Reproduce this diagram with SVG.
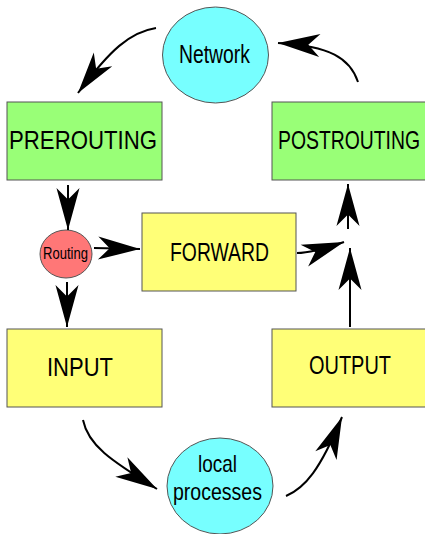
<svg xmlns="http://www.w3.org/2000/svg" width="425" height="534" viewBox="0 0 425 534">
<style>
.box{stroke:#555;stroke-width:1}
.g{fill:#99ff77}
.y{fill:#ffff77}
.c{fill:#77ffff}
.r{fill:#ff7777}
text{font-family:"Liberation Sans",Arial,sans-serif;fill:#000;text-anchor:middle}
.big{font-size:26px}
.edge{fill:none;stroke:#000;stroke-width:2;marker-end:url(#ah)}
</style>
<defs>
<marker id="ah" markerUnits="userSpaceOnUse" orient="auto" markerWidth="44" markerHeight="26" viewBox="-41 -12 42 24" refX="0" refY="0">
<path d="M0,0 L-40,-11 L-29,0 L-40,11 Z" fill="#000"/>
</marker>
</defs>
<rect width="425" height="534" fill="#fff"/>
<g id="network"><ellipse class="box c" cx="215.5" cy="55" rx="53" ry="48"/><text class="big" x="214.5" y="63" textLength="71" lengthAdjust="spacingAndGlyphs">Network</text></g>
<g id="prerouting"><rect class="box g" x="7" y="102" width="155" height="78"/><text class="big" x="83" y="149" textLength="148" lengthAdjust="spacingAndGlyphs">PREROUTING</text></g>
<g id="postrouting"><rect class="box g" x="272" y="102" width="155" height="78"/><text class="big" x="349" y="149" textLength="142" lengthAdjust="spacingAndGlyphs">POSTROUTING</text></g>
<g id="routing"><ellipse class="box r" cx="66" cy="254" rx="26" ry="24"/><text x="65.5" y="259" font-size="17" textLength="45" lengthAdjust="spacingAndGlyphs">Routing</text></g>
<g id="forward"><rect class="box y" x="142" y="213" width="154" height="78"/><text class="big" x="219.5" y="261" textLength="99" lengthAdjust="spacingAndGlyphs">FORWARD</text></g>
<g id="input"><rect class="box y" x="7" y="329" width="155" height="78"/><text class="big" x="80" y="376" textLength="66" lengthAdjust="spacingAndGlyphs">INPUT</text></g>
<g id="output"><rect class="box y" x="272" y="329" width="155" height="78"/><text class="big" x="350" y="374" textLength="82" lengthAdjust="spacingAndGlyphs">OUTPUT</text></g>
<g id="local"><ellipse class="box c" cx="220" cy="486" rx="53" ry="48"/><text font-size="24" x="217.5" y="472" textLength="39" lengthAdjust="spacingAndGlyphs">local</text><text font-size="24" x="217.5" y="500" textLength="89" lengthAdjust="spacingAndGlyphs">processes</text></g>
<g id="connectors">
<path class="edge" d="M156,28 C130,32 110,50 78,93"/>
<path class="edge" d="M358,82 C350,58 330,46 278,43"/>
<path class="edge" d="M68,185 L68,230"/>
<path class="edge" d="M94,248 L140,249"/>
<path class="edge" d="M67,282 L67,327"/>
<path class="edge" d="M297,253 C305,253 315,252 344,242"/>
<path class="edge" d="M348,229 L348,184"/>
<path class="edge" d="M350,327 L350,248"/>
<path class="edge" d="M83,420 C88,445 110,460 157,489"/>
<path class="edge" d="M286,496 C305,488 320,470 342,417"/>
</g>
</svg>
